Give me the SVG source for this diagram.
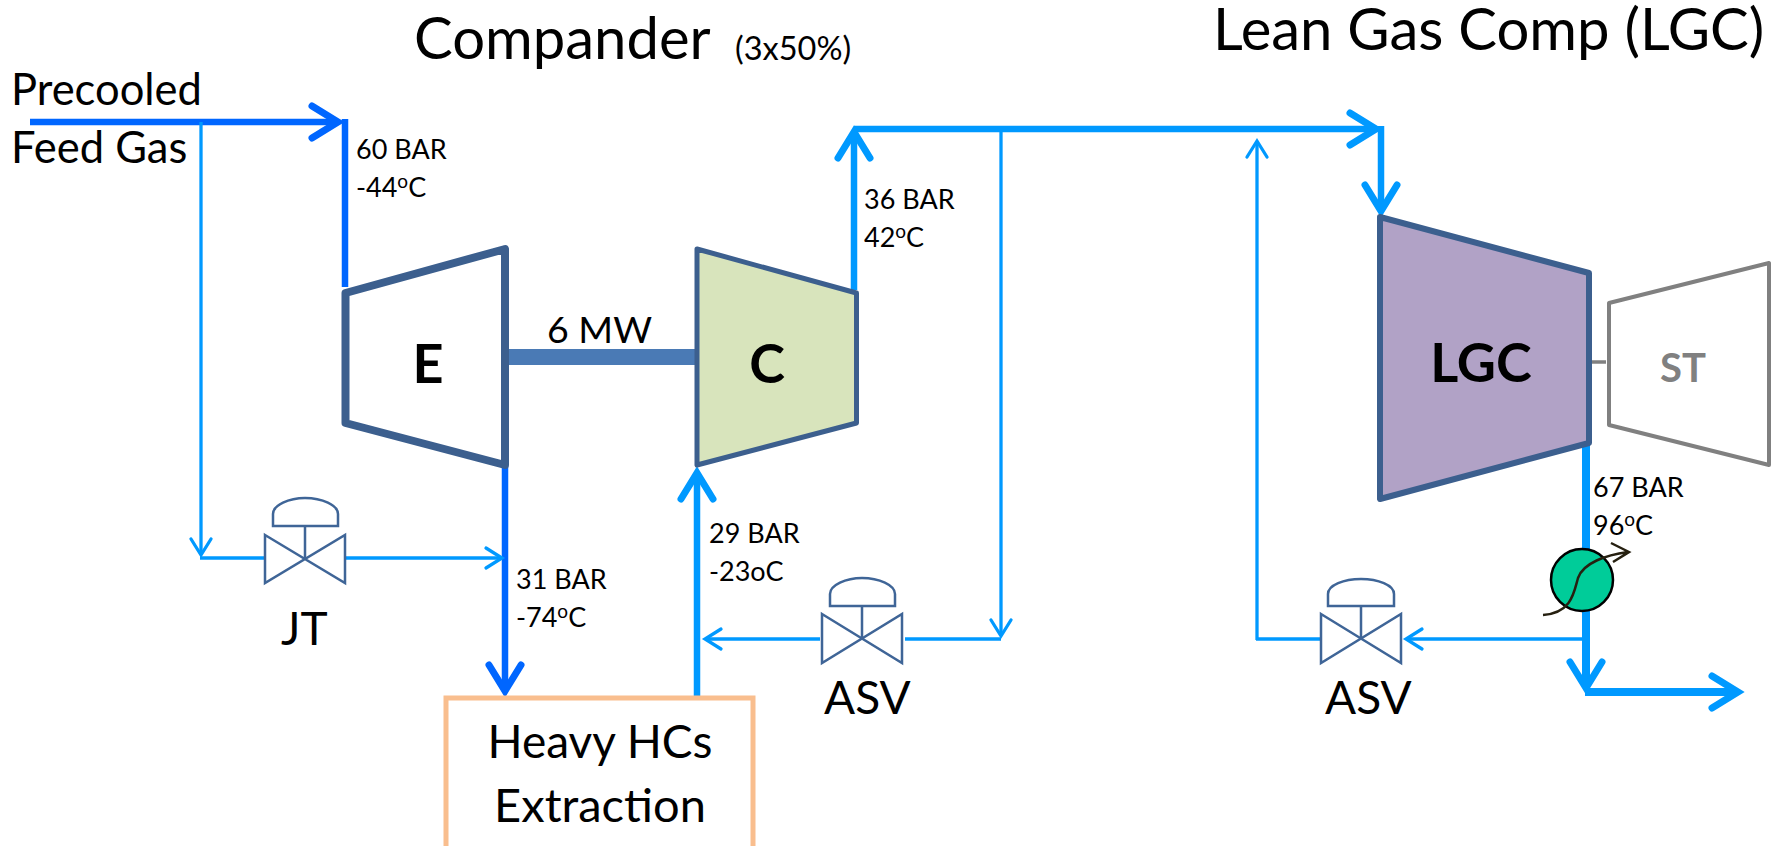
<svg xmlns="http://www.w3.org/2000/svg" width="1782" height="846" viewBox="0 0 1782 846">
<style>
text{font-family:Lato,"Open Sans","Liberation Sans",sans-serif;fill:#000}
.t{font-size:46px}.title{font-size:58px}.feed{font-size:43.500px}.lab{font-size:27px}.eq{font-size:54px;font-weight:bold}
.turb{stroke:#3c5f8e;stroke-linejoin:round}
.v{fill:none;stroke:#3f6597;stroke-width:2.5}
.dk{fill:none;stroke:#0066ff;stroke-width:6.500}
.bl{fill:none;stroke:#0099ff;stroke-width:6.500}
.bx{fill:none;stroke:#0099ff;stroke-width:8}
.th{fill:none;stroke:#0099ff;stroke-width:3.300}
</style>
<defs>
<marker id="ad" markerUnits="userSpaceOnUse" viewBox="-40 -20 50 40" refX="0" refY="0" markerWidth="50" markerHeight="40" orient="auto"><path d="M-26,-16 L0,0 L-26,16" fill="none" stroke="#0066ff" stroke-width="7" stroke-linecap="round" stroke-miterlimit="10"/></marker>
<marker id="ab" markerUnits="userSpaceOnUse" viewBox="-40 -20 50 40" refX="0" refY="0" markerWidth="50" markerHeight="40" orient="auto"><path d="M-26,-16 L0,0 L-26,16" fill="none" stroke="#0099ff" stroke-width="7" stroke-linecap="round" stroke-miterlimit="10"/></marker>
<marker id="at" markerUnits="userSpaceOnUse" viewBox="-24 -14 32 28" refX="0" refY="0" markerWidth="32" markerHeight="28" orient="auto"><path d="M-16,-10 L0,0 L-16,10" fill="none" stroke="#0099ff" stroke-width="3.300" stroke-linecap="round" stroke-miterlimit="10"/></marker>
</defs>
<rect width="1782" height="846" fill="#fff"/>
<g id="connectors">
<path class="dk" d="M30,122H338" marker-end="url(#ad)"/>
<path class="dk" d="M345,119V287"/>
<path class="dk" d="M505,467V691" marker-end="url(#ad)"/>
<path class="th" d="M201,122V555" marker-end="url(#at)"/>
<path class="th" d="M200,558H265"/>
<path class="th" d="M345,558H502" marker-end="url(#at)"/>
<path class="bl" d="M697,698V473" marker-end="url(#ab)"/>
<path class="bl" d="M854,290V132" marker-end="url(#ab)"/>
<path class="bl" d="M854,129H1376" marker-end="url(#ab)"/>
<path class="bl" d="M1381,126V211" marker-end="url(#ab)"/>
<path class="th" d="M1001,130V636" marker-end="url(#at)"/>
<path class="th" d="M1001,639H905"/>
<path class="th" d="M820,639H705" marker-end="url(#at)"/>
<path class="th" d="M1257,640V141" marker-end="url(#at)"/>
<path class="th" d="M1256,639H1321"/>
<path class="th" d="M1584,639H1406" marker-end="url(#at)"/>
<path class="bx" d="M1586,442V688" marker-end="url(#ab)"/>
<path class="bx" d="M1585,692H1738" marker-end="url(#ab)"/>
<path d="M505,357H696" fill="none" stroke="#4a7ab5" stroke-width="16"/>
<path d="M1592,362H1606" fill="none" stroke="#808080" stroke-width="3.500"/>
</g>
<g id="title-compander"><text class="title" x="414" y="59">Compander</text><text x="735" y="60" font-size="32.500">(3x50%)</text></g>
<g id="title-lgc"><text class="title" x="1213" y="50">Lean Gas Comp (LGC)</text></g>
<g id="feed-label"><text class="feed" x="11" y="105">Precooled</text><text class="feed" x="11" y="163">Feed Gas</text></g>
<g id="expander">
<path class="turb" d="M345.500,293L505,249V465L345.500,423Z" fill="#fff" stroke-width="8"/>
<text class="eq" x="428" y="383" text-anchor="middle">E</text>
</g>
<g id="compressor">
<path class="turb" d="M697,249L856.500,293V423L697,465Z" fill="#d8e4bc" stroke-width="5"/>
<text class="eq" x="767" y="383" text-anchor="middle">C</text>
</g>
<g id="lgc">
<path class="turb" d="M1380,217L1589,273V443L1380,499Z" fill="#b1a2c6" stroke-width="6"/>
<text class="eq" x="1481" y="382" text-anchor="middle">LGC</text>
</g>
<g id="st">
<path d="M1609,303L1769,263V465L1609,425Z" fill="#fff" stroke="#808080" stroke-width="4" stroke-linejoin="round"/>
<text x="1683" y="382" text-anchor="middle" font-size="40" font-weight="bold" style="fill:#808080">ST</text>
</g>
<g id="power"><text x="547" y="343" font-size="37.500">6 MW</text></g>
<g id="jt-valve">
<path class="v" d="M265,535L345,583V535L265,583Z"/>
<path class="v" d="M305,559V526M273,526H338V514C338,505 322,498 305,498C289,498 273,505 273,514Z"/>
<text class="t" x="281" y="645">JT</text>
</g>
<g id="asv-1">
<path class="v" d="M822,614L902,663V614L822,663Z"/>
<path class="v" d="M862,639V606M830,606H895V594C895,585 879,578 862,578C846,578 830,585 830,594Z"/>
<text class="t" x="824" y="714">ASV</text>
</g>
<g id="asv-2">
<path class="v" d="M1321,614L1401,663V614L1321,663Z"/>
<path class="v" d="M1361,639V606M1328,606H1394V594C1394,585 1378,579 1361,579C1344,579 1328,585 1328,594Z"/>
<text class="t" x="1325" y="714">ASV</text>
</g>
<g id="cooler">
<circle cx="1582" cy="580" r="31" fill="#00cc99" stroke="#000" stroke-width="2.500"/>
<path d="M1543,615C1572,613 1574,592 1578,578C1583,563 1606,555 1628,552M1611,543L1629,552L1613,562" fill="none" stroke="#262010" stroke-width="2.500"/>
</g>
<g id="heavy-hcs">
<rect x="446" y="698" width="307" height="160" fill="#fff" stroke="#f9be8e" stroke-width="5"/>
<text class="t" x="600" y="758" text-anchor="middle">Heavy HCs</text>
<text x="600" y="822" text-anchor="middle" font-size="47">Extraction</text>
</g>
<g id="labels">
<text class="lab" x="356" y="159">60 BAR</text>
<text class="lab" x="356" y="197">-44<tspan font-size="19" dy="-9">o</tspan><tspan dy="9">C</tspan></text>
<text class="lab" x="864" y="209">36 BAR</text>
<text class="lab" x="864" y="247">42<tspan font-size="19" dy="-9">o</tspan><tspan dy="9">C</tspan></text>
<text class="lab" x="516" y="589">31 BAR</text>
<text class="lab" x="516" y="627">-74<tspan font-size="19" dy="-9">o</tspan><tspan dy="9">C</tspan></text>
<text class="lab" x="709" y="543">29 BAR</text>
<text class="lab" x="709" y="581">-23oC</text>
<text class="lab" x="1593" y="497">67 BAR</text>
<text class="lab" x="1593" y="535">96<tspan font-size="19" dy="-9">o</tspan><tspan dy="9">C</tspan></text>
</g>
</svg>
